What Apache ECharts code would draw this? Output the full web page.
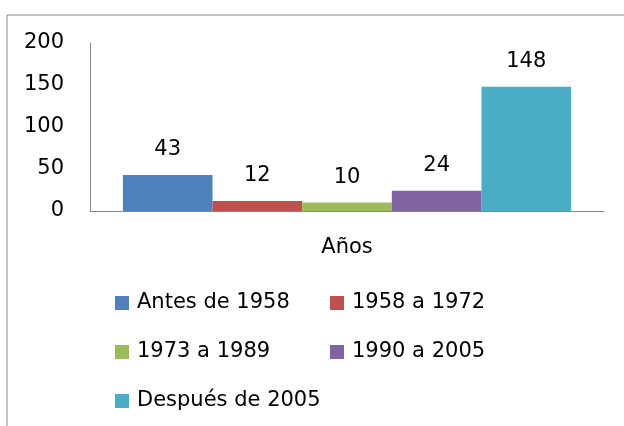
<!DOCTYPE html>
<html>
<head>
<meta charset="utf-8">
<script src="https://cdn.jsdelivr.net/npm/echarts@6/dist/echarts.min.js"></script>
<style>
  html, body { margin: 0; padding: 0; background: #fff; }
  #chart { width: 624px; height: 426px; }
</style>
</head>
<body>
<div id="chart"></div>
<script>
// datos
const categories = ['Años']
const seriesNames = ['Antes de 1958', '1958 a 1972', '1973 a 1989', '1990 a 2005', 'Después de 2005']
const seriesValues = [43, 12, 10, 24, 148]
const colors = ['#4F81BD', '#C0504D', '#9BBB59', '#8064A2', '#4BACC6']

const font = 'DejaVu Sans'
const myChart = echarts.init(document.getElementById('chart'))

const series = seriesNames.map((name, i) => ({
  name: name,
  type: 'bar',
  data: [seriesValues[i]],
  barGap: 0,
  barCategoryGap: '12.8%',
  itemStyle: { color: colors[i] },
  label: {
    show: true,
    position: 'top',
    distance: 15,
    color: '#000',
    fontFamily: font,
    fontSize: 21,
  },
}))

const legendText = {
  color: '#000',
  fontFamily: font,
  fontSize: 21,
  lineHeight: 24,
  padding: [0, 0, 0, 3],
}

const option = {
  animation: false,
  graphic: [
    {
      type: 'rect',
      shape: { x: 7, y: 15, width: 700, height: 500 },
      style: { fill: 'none', stroke: '#888', lineWidth: 1 },
      silent: true,
    },
  ],
  grid: { left: 90, right: 20, top: 43, bottom: 215 },
  legend: [
    {
      orient: 'vertical',
      left: 115,
      top: 291,
      padding: 0,
      itemWidth: 14,
      itemHeight: 14,
      itemGap: 25,
      icon: 'rect',
      data: [seriesNames[0], seriesNames[2], seriesNames[4]],
      textStyle: legendText,
    },
    {
      orient: 'vertical',
      left: 330,
      top: 291,
      padding: 0,
      itemWidth: 14,
      itemHeight: 14,
      itemGap: 25,
      icon: 'rect',
      data: [seriesNames[1], seriesNames[3]],
      textStyle: legendText,
    },
  ],
  xAxis: {
    type: 'category',
    data: categories,
    axisLine: { lineStyle: { color: '#868686', width: 1 } },
    axisTick: { show: false },
    axisLabel: { color: '#000', fontFamily: font, fontSize: 21, margin: 26 },
  },
  yAxis: {
    type: 'value',
    min: 0,
    max: 200,
    interval: 50,
    splitLine: { show: false },
    axisLine: { show: true, lineStyle: { color: '#868686', width: 1 } },
    axisTick: { show: false },
    axisLabel: { color: '#000', fontFamily: font, fontSize: 21, margin: 26 },
  },
  series: series,
}

myChart.setOption(option)
</script>
</body>
</html>
